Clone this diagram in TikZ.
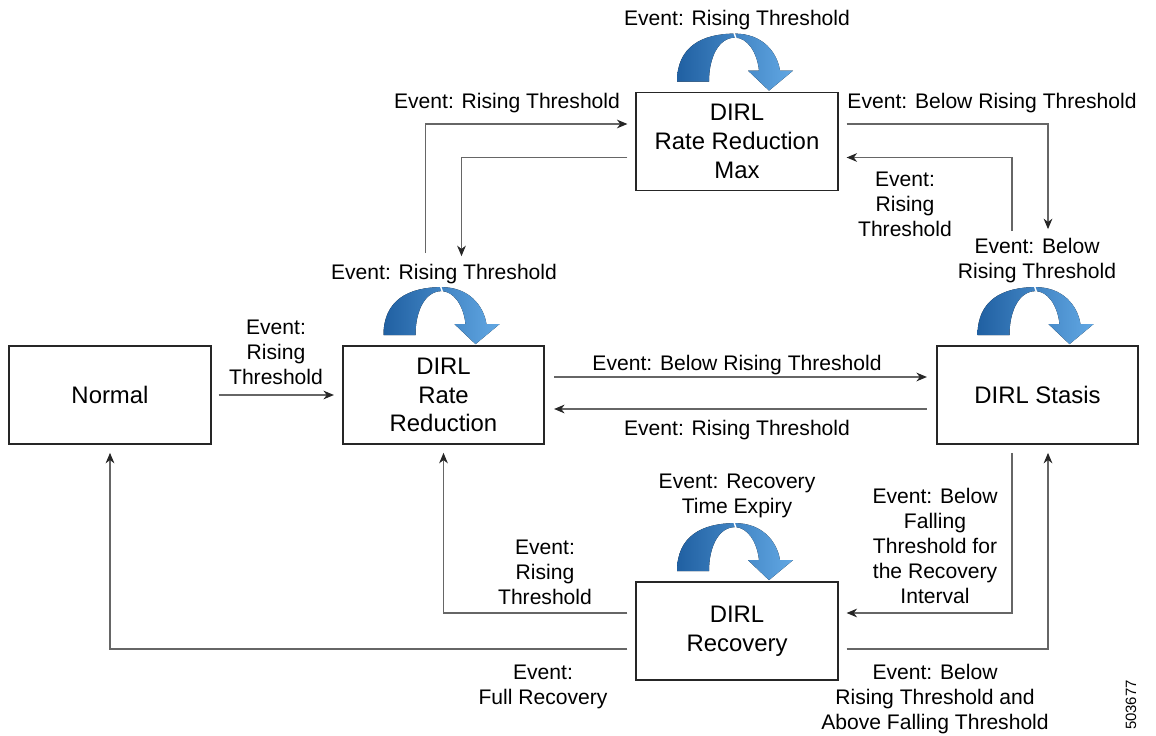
\documentclass[tikz,border=0pt]{standalone}
\usepackage{fontspec}
\setmainfont{Liberation Sans}
\usetikzlibrary{arrows.meta,calc}

\definecolor{loopDark}{RGB}{32,96,162}
\definecolor{loopLight}{RGB}{98,168,228}

% self loop arrow, drawn at the given point (units are the picture's px)
\newcommand\loopArrow[1]{%
  \fill[left color=loopDark, right color=loopLight, shift={(#1)}]
    (-60,0) .. controls (-60,35) and (-35,48) .. (-2,48)
    .. controls (25,48) and (40,30) .. (43,11)
    -- (56,11) -- (32,-9) -- (11,11) -- (22,11)
    .. controls (20,30) and (10,44) .. (-2,44)
    .. controls (-18,44) and (-28,25) .. (-28,0) -- cycle;
  \draw[white, line width=0.8pt, shift={(#1)}] (-3,49) -- (-1,43);
}

\begin{document}
\begin{tikzpicture}[x=0.02cm, y=0.02cm,
    stateBox/.style={draw=black!85, line width=1pt, minimum width=4.03cm,
      minimum height=1.96cm, align=center, font=\fontsize{13.6}{16.4}\selectfont},
    lbl/.style={align=center, inner sep=0pt, yshift=-1.2pt, font=\fontsize{12}{14.2}\selectfont},
    conn/.style={draw=black!60, line width=0.6pt,
      -{Stealth[length=6pt,width=5pt,color=black!85]}}]
    \useasboundingbox (0,0) rectangle (1156,-736);

    % states
    \node[stateBox] (normal) at (110,-395) {Normal};
    \node[stateBox] (rr) at (443.5,-395) {DIRL\\Rate\\Reduction};
    \node[stateBox] (stasis) at (1037.5,-395) {DIRL Stasis};
    \node[stateBox] (max) at (737,-141.5) {DIRL\\Rate Reduction\\Max};
    \node[stateBox] (recovery) at (737,-631) {DIRL\\Recovery};

    % self loops
    \foreach \s in {max,rr,stasis,recovery} {
      \loopArrow{$(\s.north)+(0,10)$}
    }

    % middle row
    \draw[conn] ($(normal.east)+(7,0)$) -- ($(rr.west)+(-8,0)$);
    \draw[conn] ($(rr.east)+(9,18)$) -- ($(stasis.west)+(-9,18)$);
    \draw[conn] ($(stasis.west)+(-9,-14)$) -- ($(rr.east)+(9,-14)$);

    % to and from max
    \draw[conn] ($(rr.north)+(-18,92)$) |- ($(max.west)+(-8,17.5)$);
    \draw[conn] ($(max.west)+(-8,-16)$) -| ($(rr.north)+(18,89)$);
    \draw[conn] ($(max.east)+(8,17.5)$) -| ($(stasis.north)+(10.5,116)$);
    \draw[conn] ($(stasis.north)+(-25.5,114)$) |- ($(max.east)+(8,-16)$);

    % to and from recovery
    \draw[conn] ($(stasis.south)+(-25.5,-8)$) |- ($(recovery.east)+(8,18)$);
    \draw[conn] ($(recovery.east)+(8,-18)$) -| ($(stasis.south)+(10.5,-8)$);
    \draw[conn] ($(recovery.west)+(-8,18)$) -| ($(rr.south)+(0,-8)$);
    \draw[conn] ($(recovery.west)+(-8,-18)$) -| ($(normal.south)+(0,-8)$);

    % event labels
    \node[lbl] (lMaxLoop) at (737,-18) {Event: Rising Threshold};
    \node[lbl] (lRrMax) at (507,-101) {Event: Rising Threshold};
    \node[lbl] (lMaxStasis) at (992,-101) {Event: Below Rising Threshold};
    \node[lbl] (lStasisMax) at (905,-202) {Event:\\Rising\\Threshold};
    \node[lbl] (lStasisLoop) at (1037,-258) {Event: Below\\Rising Threshold};
    \node[lbl] (lRrLoop) at (444,-272) {Event: Rising Threshold};
    \node[lbl] (lNormalRr) at (276,-350) {Event:\\Rising\\Threshold};
    \node[lbl] (lRrStasis) at (737,-363) {Event: Below Rising Threshold};
    \node[lbl] (lStasisRr) at (737,-428) {Event: Rising Threshold};
    \node[lbl] (lRecLoop) at (737,-494) {Event: Recovery\\Time Expiry};
    \node[lbl] (lStasisRec) at (935,-544) {Event: Below\\Falling\\Threshold for\\the Recovery\\Interval};
    \node[lbl] (lRecRr) at (545,-570) {Event:\\Rising\\Threshold};
    \node[lbl] (lRecNormal) at (543,-685) {Event:\\Full Recovery};
    \node[lbl] (lRecStasis) at (935,-697) {Event: Below\\Rising Threshold and\\Above Falling Threshold};

    % figure number
    \node[rotate=90, inner sep=0pt, font=\fontsize{8.5}{10}\selectfont] (figId) at (1131,-705) {503677};
  \end{tikzpicture}
\end{document}
